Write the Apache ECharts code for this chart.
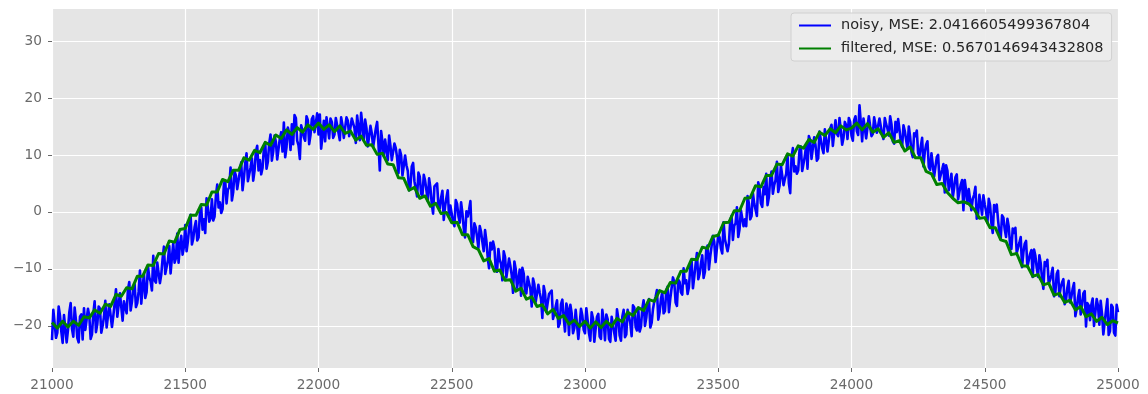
<!DOCTYPE html>
<html>
<head>
<meta charset="utf-8">
<title>noisy vs filtered</title>
<script src="https://cdn.jsdelivr.net/npm/echarts@6/dist/echarts.min.js"></script>
<style>
  html, body { margin: 0; padding: 0; background: #ffffff; }
  #chart { width: 1148px; height: 394px; }
</style>
</head>
<body>
<div id="chart"></div>
<script>
// Sample positions: noisy signal every 5 steps, filtered signal every 20 steps
const X_START = 21000;
const NOISY_STEP = 5;
const FILTERED_STEP = 20;

const xTicks = [21000, 21500, 22000, 22500, 23000, 23500, 24000, 24500, 25000];
const yTicks = [-20, -10, 0, 10, 20, 30];

const noisyLabel = 'noisy, MSE: 2.0416605499367804';
const filteredLabel = 'filtered, MSE: 0.5670146943432808';

const noisy = [
  -22.5, -17.2, -16.9, -22.1, -21.2, -16.6, -18.2, -21.0, -23.0, -18.1, -17.8, -22.9, -20.7, -17.6, -16.0, -20.5, -21.9, -16.8, -19.1, -22.1,
  -22.9, -18.4, -18.0, -22.4, -16.9, -20.7, -21.0, -17.0, -18.3, -22.3, -21.5, -17.9, -15.7, -21.1, -19.7, -16.6, -17.0, -21.2, -20.0, -18.4,
  -15.6, -20.3, -20.4, -16.2, -16.1, -20.2, -18.3, -16.1, -13.6, -18.4, -18.4, -14.3, -14.3, -19.1, -15.7, -16.0, -17.8, -13.6, -12.3, -17.3,
  -15.8, -13.3, -12.7, -16.7, -16.0, -14.0, -10.3, -16.1, -13.2, -10.9, -15.1, -14.1, -9.5, -11.5, -12.2, -13.8, -7.7, -12.0, -12.4, -8.9,
  -8.7, -12.5, -11.0, -8.2, -6.1, -10.9, -10.9, -8.5, -6.0, -10.8, -8.0, -5.5, -8.9, -8.1, -3.8, -8.9, -5.7, -4.2, -7.5, -6.1,
  -2.3, -6.9, -5.1, -2.7, -0.5, -5.7, -4.7, -2.7, -1.6, -5.0, -4.5, -0.2, 0.8, -3.1, -1.3, -3.7, 2.4, 0.7, -1.7, -1.1,
  2.2, -1.5, -0.8, 2.8, 4.8, 0.8, 1.7, -0.2, 0.5, 4.9, 5.5, 1.5, 3.9, 4.3, 7.8, 2.0, 3.5, 7.1, 6.4, 4.0,
  4.0, 7.1, 8.7, 3.8, 5.9, 8.5, 10.3, 5.4, 5.2, 7.8, 9.4, 5.5, 7.2, 10.6, 11.6, 7.3, 9.1, 6.6, 7.7, 11.1,
  12.2, 7.6, 8.8, 12.0, 13.6, 9.0, 10.6, 13.4, 12.3, 9.2, 9.5, 12.9, 14.0, 10.6, 15.7, 9.6, 11.4, 14.8, 13.9, 10.9,
  15.4, 11.9, 17.0, 16.5, 12.5, 11.7, 9.3, 15.2, 15.2, 13.1, 12.5, 16.8, 16.1, 11.9, 13.5, 16.3, 16.8, 14.0, 14.2, 17.3,
  13.6, 17.1, 11.1, 13.3, 16.0, 12.4, 16.6, 16.3, 12.9, 16.4, 15.8, 13.0, 13.6, 16.5, 16.8, 13.9, 12.6, 16.6, 15.2, 13.0,
  13.1, 16.6, 16.0, 13.3, 13.5, 16.4, 16.2, 14.7, 12.1, 16.9, 14.8, 12.6, 17.4, 15.1, 12.6, 16.2, 14.7, 11.5, 11.2, 15.1,
  13.8, 11.4, 11.2, 14.6, 15.8, 11.9, 7.3, 14.2, 12.3, 9.8, 12.7, 13.0, 9.1, 13.4, 11.6, 9.1, 8.8, 12.0, 11.2, 9.5,
  6.8, 10.9, 10.0, 6.4, 6.3, 9.9, 8.2, 7.2, 3.8, 4.5, 8.0, 8.6, 5.4, 5.3, 2.7, 6.9, 6.2, 3.2, 2.8, 6.5,
  5.5, 3.8, 1.9, 5.9, 4.2, 1.4, -0.3, 4.5, 4.7, 5.0, 1.1, 0.6, 2.5, 3.7, -1.4, 1.0, 2.5, 3.8, -1.0, 1.1,
  1.4, -1.8, -2.5, 2.1, 1.4, -0.7, -1.9, 1.7, -0.2, -2.9, -4.5, 0.1, -0.8, 0.4, 1.9, -4.6, -5.3, -2.0, -2.7, -4.4,
  -6.3, -2.5, -3.5, -5.3, -6.9, -3.2, -5.1, -8.0, -9.9, -5.4, -6.6, -5.2, -6.3, -9.9, -10.5, -6.5, -8.4, -9.1, -12.0, -6.9,
  -7.9, -11.5, -11.6, -8.2, -9.5, -11.1, -14.2, -8.7, -10.0, -13.3, -11.8, -10.1, -14.7, -9.8, -10.8, -13.9, -14.3, -11.4, -12.5, -13.5,
  -16.6, -11.7, -12.7, -15.8, -16.1, -12.8, -14.2, -15.3, -18.6, -13.0, -14.2, -17.5, -17.6, -14.4, -14.1, -13.8, -18.8, -17.8, -16.6, -15.5,
  -20.2, -19.6, -16.2, -15.4, -18.5, -21.0, -16.1, -17.0, -21.6, -16.3, -17.8, -21.3, -20.4, -17.2, -17.1, -22.3, -22.0, -17.0, -18.2, -20.7,
  -21.3, -16.9, -17.2, -21.3, -22.6, -17.6, -18.7, -22.8, -20.5, -18.4, -17.9, -21.9, -22.3, -17.2, -19.1, -22.5, -18.0, -18.8, -22.3, -22.8,
  -18.4, -18.2, -21.3, -22.6, -17.1, -18.7, -21.7, -22.6, -18.4, -17.2, -22.0, -21.5, -17.2, -18.4, -19.5, -21.8, -16.4, -16.8, -20.2, -20.8,
  -17.1, -21.0, -20.2, -17.0, -15.5, -20.0, -18.6, -16.1, -15.3, -20.3, -19.5, -17.1, -15.7, -14.9, -13.7, -18.9, -17.6, -15.3, -14.1, -17.8,
  -17.4, -13.8, -13.1, -17.6, -15.2, -14.9, -11.5, -12.3, -15.9, -16.5, -11.9, -12.3, -14.1, -14.5, -9.9, -12.5, -12.0, -14.4, -13.2, -9.7,
  -8.6, -13.4, -11.4, -9.2, -7.2, -11.8, -10.9, -9.1, -7.6, -11.6, -10.5, -6.6, -5.9, -10.1, -7.8, -7.8, -4.2, -5.3, -8.8, -8.8,
  -4.0, -4.5, -6.4, -7.3, -1.8, -4.8, -4.6, -6.9, -5.6, -1.5, -0.7, -4.9, -2.4, -2.0, 0.8, -4.4, -3.0, 0.3, 0.6, -2.5,
  -1.3, -2.5, 2.8, 1.5, -1.3, -0.7, 3.3, 1.5, 1.6, -0.7, 5.2, 4.1, 1.5, 0.9, 4.4, 3.1, 6.7, 1.2, 2.6, 5.9,
  7.1, 3.2, 4.7, 5.6, 8.8, 3.5, 4.6, 8.1, 8.3, 4.7, 5.8, 6.7, 10.0, 5.0, 3.3, 9.6, 11.2, 7.1, 8.0, 6.7,
  7.3, 10.9, 11.5, 7.2, 7.5, 9.8, 11.8, 7.6, 13.3, 12.6, 9.3, 9.5, 13.1, 11.7, 9.0, 9.4, 14.1, 14.1, 11.2, 10.3,
  14.5, 12.6, 10.6, 10.5, 14.6, 15.3, 11.6, 11.7, 16.1, 13.7, 13.3, 16.5, 16.2, 11.8, 13.0, 15.8, 15.2, 12.8, 16.5, 15.8,
  13.4, 12.5, 16.1, 16.8, 14.2, 13.5, 18.7, 15.7, 12.4, 16.4, 16.1, 12.9, 13.2, 16.8, 16.5, 13.3, 13.7, 16.6, 16.7, 13.9,
  13.7, 16.4, 16.3, 13.6, 12.8, 16.5, 15.4, 14.6, 13.4, 16.8, 15.4, 12.4, 12.0, 15.8, 14.0, 16.3, 14.5, 12.3, 11.4, 15.2,
  14.2, 12.6, 11.1, 15.0, 13.2, 10.5, 9.6, 13.8, 13.3, 14.3, 10.3, 9.8, 11.5, 13.0, 8.0, 10.5, 11.8, 12.4, 7.9, 7.4,
  10.3, 10.5, 6.2, 7.9, 9.6, 10.0, 5.6, 5.4, 7.4, 8.4, 3.4, 8.2, 7.2, 3.8, 5.0, 6.7, 2.5, 4.2, 6.1, 6.6,
  2.2, 2.2, 4.8, 5.6, 0.3, 5.6, 3.7, 1.5, 4.0, 4.2, 0.3, 2.3, 3.0, 4.4, -1.2, -0.4, 3.0, 2.9, -0.5, 2.9,
  1.3, 0.1, -1.9, 2.3, 1.2, -2.0, -3.7, 1.2, 0.1, 1.3, -1.5, -3.7, -4.6, -0.6, -1.0, -3.1, -4.4, -1.2, -2.6, -5.7,
  -6.5, -2.9, -3.7, -2.8, -7.2, -7.2, -5.4, -4.4, -9.7, -7.1, -5.6, -5.1, -9.6, -9.7, -7.4, -6.7, -11.4, -6.6, -7.7, -9.8,
  -11.4, -7.6, -9.0, -11.7, -13.5, -8.8, -9.5, -8.4, -12.6, -12.0, -11.0, -9.8, -14.8, -14.1, -10.9, -10.3, -14.8, -13.2, -12.4, -11.8,
  -16.2, -15.4, -13.3, -12.1, -15.9, -14.9, -13.5, -12.5, -18.3, -17.0, -15.0, -13.7, -18.0, -16.3, -14.3, -13.9, -20.1, -16.0, -16.4, -19.0,
  -16.3, -15.2, -20.0, -20.3, -15.3, -16.5, -19.8, -15.6, -17.9, -21.5, -21.4, -17.3, -15.3, -21.6, -20.9, -16.3, -16.7, -21.2, -21.7, -16.3,
  -17.6
];

const filtered = [
  -19.4, -20.4, -19.2, -20.2, -19.2, -19.9, -18.4, -18.6, -17.2, -17.8,
  -16.2, -16.6, -14.5, -14.8, -13.3, -13.5, -11.3, -11.3, -9.3, -9.4,
  -7.3, -7.4, -5.1, -5.3, -3.1, -2.9, -0.6, -0.6, 1.3, 1.2,
  3.5, 3.5, 5.7, 5.3, 7.3, 7.3, 9.5, 9.1, 10.8, 10.4,
  12.2, 11.7, 13.5, 12.9, 14.4, 13.6, 14.8, 14.0, 15.3, 14.5,
  15.6, 14.5, 15.3, 14.1, 15.1, 13.8, 14.2, 12.6, 13.3, 11.7,
  11.8, 10.1, 10.3, 8.4, 8.3, 6.0, 5.9, 3.8, 4.3, 2.4,
  2.8, 1.0, 1.5, -0.3, -0.1, -1.9, -1.8, -4.0, -4.0, -6.1,
  -6.6, -8.6, -8.2, -10.4, -10.2, -12.0, -11.9, -13.9, -13.4, -15.3,
  -14.9, -16.6, -16.3, -17.9, -17.1, -18.7, -18.2, -19.7, -19.0, -20.1,
  -19.2, -20.4, -19.3, -20.3, -19.2, -20.1, -18.7, -19.3, -17.6, -18.2,
  -16.8, -17.3, -15.4, -15.7, -13.8, -14.2, -12.4, -12.5, -10.4, -10.4,
  -8.3, -8.4, -6.2, -6.4, -4.3, -4.1, -1.9, -1.8, 0.2, 0.2,
  2.4, 2.5, 4.6, 4.4, 6.4, 6.4, 8.4, 8.3, 10.2, 9.8,
  11.6, 11.2, 12.7, 12.2, 14.0, 13.4, 14.6, 13.9, 15.1, 14.4,
  14.7, 15.6, 14.4, 15.5, 14.0, 14.6, 13.1, 13.9, 12.2, 12.5,
  10.7, 11.4, 9.5, 9.5, 7.1, 6.7, 4.8, 5.0, 3.4, 2.4,
  1.6, 1.8, 1.4, 0.5, -1.1, -1.0, -2.8, -2.8, -4.9, -5.2,
  -7.5, -7.3, -9.5, -9.5, -11.3, -11.0, -12.8, -12.5, -14.6, -14.3,
  -15.9, -15.5, -17.2, -16.6, -18.4, -17.9, -19.2, -18.5, -19.8, -19.1,
  -19.5
];

const noisyData = noisy.map((v, i) => [X_START + i * NOISY_STEP, v]);
const filteredData = filtered.map((v, i) => [X_START + i * FILTERED_STEP, v]);

const TICK_COLOR = '#6a6a6a';
const FONT = 'DejaVu Sans';

const chart = echarts.init(document.getElementById('chart'), null, { renderer: 'canvas' });

chart.setOption({
  animation: false,
  backgroundColor: '#ffffff',
  grid: {
    left: 52, top: 8, width: 1066, height: 360,
    show: true, backgroundColor: '#e5e5e5', borderWidth: 0
  },
  legend: {
    orient: 'vertical',
    left: 791, top: 13,
    icon: 'rect',
    itemWidth: 32, itemHeight: 2,
    itemGap: 8,
    padding: [5, 8, 5, 8],
    backgroundColor: 'rgba(236,236,236,0.9)',
    borderColor: '#d0d0d0', borderWidth: 1, borderRadius: 3,
    textStyle: { fontFamily: FONT, fontSize: 14.5, color: '#262626', padding: [0, 0, 0, 5] },
    data: [noisyLabel, filteredLabel]
  },
  xAxis: {
    type: 'value',
    min: xTicks[0], max: xTicks[xTicks.length - 1], interval: 500,
    axisLine: { show: false, onZero: false },
    axisTick: { show: true, length: 4, lineStyle: { color: TICK_COLOR, width: 1 } },
    axisLabel: {
      margin: 10, color: TICK_COLOR, fontFamily: FONT, fontSize: 13.7,
      formatter: v => (xTicks.includes(v) ? String(v) : '')
    },
    splitLine: { show: true, lineStyle: { color: '#ffffff', width: 1.2 } }
  },
  yAxis: {
    type: 'value',
    min: -27.4, max: 35.8, splitNumber: 5,
    axisLine: { show: false, onZero: false },
    axisTick: { show: true, length: 4, lineStyle: { color: TICK_COLOR, width: 1 } },
    axisLabel: {
      margin: 10, color: TICK_COLOR, fontFamily: FONT, fontSize: 13.7,
      showMinLabel: false, showMaxLabel: false,
      formatter: v => (yTicks.includes(v) ? String(v).replace('-', '\u2212') : '')
    },
    splitLine: { show: true, lineStyle: { color: '#ffffff', width: 1.2 } }
  },
  series: [
    {
      name: noisyLabel,
      type: 'line',
      data: noisyData,
      symbol: 'none',
      sampling: 'none',
      color: '#0000ff',
      lineStyle: { color: '#0000ff', width: 2.6, join: 'round' },
      z: 2
    },
    {
      name: filteredLabel,
      type: 'line',
      data: filteredData,
      symbol: 'none',
      sampling: 'none',
      color: '#008000',
      lineStyle: { color: '#008000', width: 3, join: 'round' },
      z: 3
    }
  ]
});
</script>
</body>
</html>
